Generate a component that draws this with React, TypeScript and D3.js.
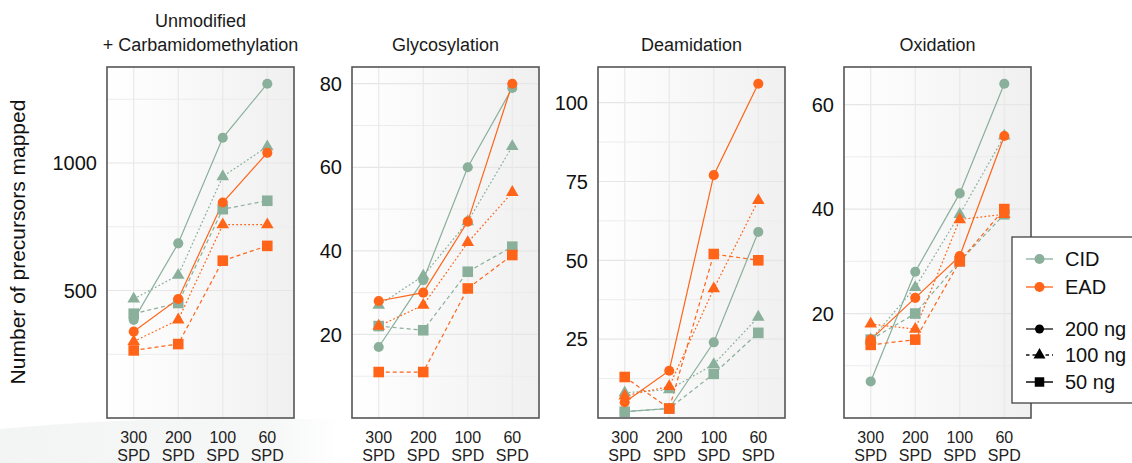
import * as d3 from "d3";

// categories and labels
const categories = ["300", "200", "100", "60"];
const methods = ["CID", "EAD"];
const amounts = ["200 ng", "100 ng", "50 ng"];
const panelTitles = [
  ["Unmodified", "+ Carbamidomethylation"],
  ["Glycosylation"],
  ["Deamidation"],
  ["Oxidation"],
];

// values per panel, rows = 200 ng, 100 ng, 50 ng
const unmodCID = [[385, 685, 1099, 1311], [467, 560, 947, 1064], [409, 451, 819, 852]];
const unmodEAD = [[339, 467, 845, 1040], [300, 385, 758, 758], [265, 290, 617, 675]];
const glycoCID = [[17, 33, 60, 79], [27, 34, 47, 65], [22, 21, 35, 41]];
const glycoEAD = [[28, 30, 47, 80], [22, 27, 42, 54], [11, 11, 31, 39]];
const deamCID = [[2, 3, 24, 59], [8, 9, 17, 32], [2, 3, 14, 27]];
const deamEAD = [[5, 15, 77, 106], [7, 10, 41, 69], [13, 3, 52, 50]];
const oxCID = [[7, 28, 43, 64], [15, 25, 39, 54], [15, 20, 30, 39]];
const oxEAD = [[15, 23, 31, 54], [18, 17, 38, 39], [14, 15, 30, 40]];

// y ticks
const unmodTicks = [500, 1000];
const glycoTicks = [20, 40, 60, 80];
const deamTicks = [25, 50, 75, 100];
const oxTicks = [20, 40, 60];

const panelData = [
  [unmodCID, unmodEAD],
  [glycoCID, glycoEAD],
  [deamCID, deamEAD],
  [oxCID, oxEAD],
];
const panelTicks = [unmodTicks, glycoTicks, deamTicks, oxTicks];

const colors: Record<string, string> = { CID: "#8aaf9b", EAD: "#ff6419" };
const dashes = [null, "1.8,2.2", "4,3"];
const shapes = [d3.symbolCircle, d3.symbolTriangle, d3.symbolSquare];
const shapeSizes = [80, 68, 112];

const W = 1132;
const H = 463;
const top = 67;
const bottom = 418;
const panelW = 187;
const panelLefts = [107, 352, 598, 844];
const font = "'Liberation Sans', Arial, sans-serif";

function Panel({ idx }: { idx: number }) {
  const left = panelLefts[idx];
  const [cid, ead] = panelData[idx];
  const ticks = panelTicks[idx];
  const maxV = d3.max([...cid, ...ead].flat()) as number;
  const y = d3.scaleLinear().domain([0, maxV * 1.05]).range([bottom, top]);
  const x = d3.scalePoint<string>().domain(categories).range([left, left + panelW]).padding(0.6);
  const step = ticks[1] - ticks[0];
  const minor = d3.range(ticks[0] - step / 2, maxV * 1.05, step).filter((v) => v > 0);
  const line = d3
    .line<number>()
    .x((_, i) => x(categories[i]) as number)
    .y((d) => y(d));

  // draw order of points: 100, 200, 50
  const order = [1, 0, 2];
  const series = methods.flatMap((m, mi) =>
    order.map((a) => ({ method: m, amount: a, values: (mi === 0 ? cid : ead)[a] }))
  );
  const titles = panelTitles[idx];
  const cx = left + panelW / 2;

  return (
    <g>
      {titles.map((t, i) => (
        <text
          key={t}
          x={cx}
          y={51 - (titles.length - 1 - i) * 24}
          textAnchor="middle"
          fontSize={18}
          fill="#1a1a1a"
        >
          {t}
        </text>
      ))}
      <rect x={left} y={top} width={panelW} height={bottom - top} fill="url(#panelBg)" />
      {minor.map((v) => (
        <line key={"m" + v} x1={left} x2={left + panelW} y1={y(v)} y2={y(v)} stroke="#ececec" strokeWidth={1} />
      ))}
      {ticks.map((v) => (
        <line key={"t" + v} x1={left} x2={left + panelW} y1={y(v)} y2={y(v)} stroke="#e6e6e6" strokeWidth={1.2} />
      ))}
      {categories.map((c) => (
        <line key={"v" + c} x1={x(c)} x2={x(c)} y1={top} y2={bottom} stroke="#e9e9e9" strokeWidth={1.2} />
      ))}
      {series.map((s) => (
        <path
          key={"l" + s.method + s.amount}
          d={line(s.values) as string}
          fill="none"
          stroke={colors[s.method]}
          strokeWidth={1.2}
          strokeDasharray={dashes[s.amount] ?? undefined}
        />
      ))}
      {series.map((s) =>
        s.values.map((v, i) => (
          <path
            key={"p" + s.method + s.amount + i}
            transform={`translate(${x(categories[i])},${y(v)})`}
            d={d3.symbol(shapes[s.amount], shapeSizes[s.amount])() as string}
            fill={colors[s.method]}
          />
        ))
      )}
      <rect
        x={left}
        y={top}
        width={panelW}
        height={bottom - top}
        fill="none"
        stroke="#555"
        strokeWidth={1.6}
      />
      {ticks.map((v) => (
        <text key={"yl" + v} x={left - 10} y={y(v)} dy="0.36em" textAnchor="end" fontSize={20} fill="#111">
          {v}
        </text>
      ))}
      {categories.map((c) => (
        <text key={"xl" + c} x={x(c)} textAnchor="middle" fontSize={16} fill="#222">
          <tspan x={x(c)} y={443}>
            {c}
          </tspan>
          <tspan x={x(c)} y={461}>
            SPD
          </tspan>
        </text>
      ))}
    </g>
  );
}

function Legend() {
  const lx = 1012;
  const keyX1 = 1026;
  const keyX2 = 1053;
  const kx = (keyX1 + keyX2) / 2;
  const methodY = [259, 287];
  const amountY = [329, 355, 382];
  const legendDash = [null, "3.5,3", "9,0"];
  return (
    <g>
      <rect x={lx} y={237} width={140} height={166} fill="#fff" stroke="#444" strokeWidth={1.3} />
      {methods.map((m, i) => (
        <g key={m}>
          <line x1={keyX1} x2={keyX2} y1={methodY[i]} y2={methodY[i]} stroke={colors[m]} strokeWidth={1.3} />
          <circle cx={kx} cy={methodY[i]} r={5} fill={colors[m]} />
          <text x={1065} y={methodY[i]} dy="0.36em" fontSize={20} fill="#111">
            {m}
          </text>
        </g>
      ))}
      {amounts.map((a, i) => (
        <g key={a}>
          <line
            x1={keyX1}
            x2={keyX2}
            y1={amountY[i]}
            y2={amountY[i]}
            stroke="#111"
            strokeWidth={1.3}
            strokeDasharray={legendDash[i] ?? undefined}
          />
          <path
            transform={`translate(${kx},${amountY[i]})`}
            d={d3.symbol(shapes[i], [64, 62, 90][i])() as string}
            fill="#000"
          />
          <text x={1065} y={amountY[i]} dy="0.36em" fontSize={20} fill="#111">
            {a}
          </text>
        </g>
      ))}
    </g>
  );
}

export default function App() {
  return (
    <svg
      width={W}
      height={H}
      style={{ position: "absolute", left: 0, top: 0, background: "#fff" }}
      fontFamily={font}
    >
      <defs>
        <linearGradient id="panelBg" x1="0" x2="1" y1="0" y2="0">
          <stop offset="0" stopColor="#ffffff" />
          <stop offset="1" stopColor="#f0f0f0" />
        </linearGradient>
        <linearGradient id="swoosh" x1="0" x2="1" y1="0" y2="0">
          <stop offset="0" stopColor="#f3f5f4" />
          <stop offset="0.8" stopColor="#f6f7f7" />
          <stop offset="1" stopColor="#ffffff" />
        </linearGradient>
      </defs>
      <path d="M0,463 L0,429 Q160,414 340,420 L340,463 Z" fill="url(#swoosh)" />
      <text
        transform="translate(25,242) rotate(-90)"
        textAnchor="middle"
        fontSize={21}
        fill="#111"
      >
        Number of precursors mapped
      </text>
      {panelLefts.map((_, i) => (
        <Panel key={i} idx={i} />
      ))}
      <Legend />
    </svg>
  );
}
